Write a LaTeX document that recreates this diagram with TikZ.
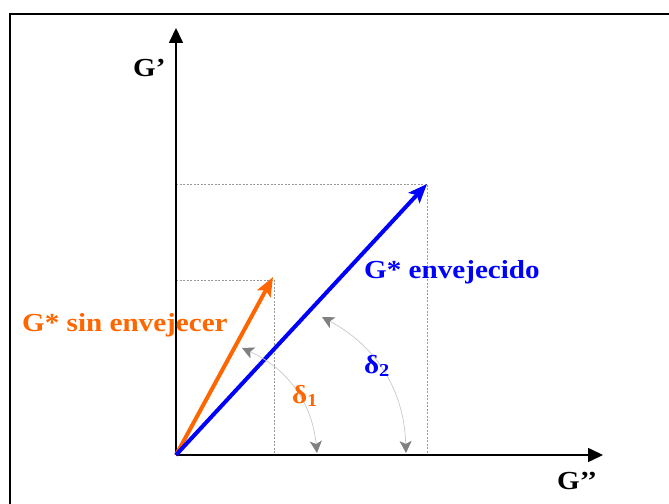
\documentclass[tikz,border=0pt]{standalone}
\usepackage{fontspec}
\setmainfont{Liberation Serif}[FakeStretch=1.12]
\usetikzlibrary{arrows.meta}
\definecolor{vorange}{RGB}{255,102,0}
\definecolor{vblue}{RGB}{0,0,255}
\definecolor{arcline}{RGB}{200,200,200}
\definecolor{arctip}{RGB}{128,128,128}
\tikzset{
  lbl/.style={inner sep=0pt, font=\fontsize{26bp}{31bp}\selectfont\bfseries},
  axis/.style={line width=1.6bp, -{Triangle[length=15bp,width=14bp]}},
  vec/.style={line width=4bp, -{Stealth[length=19bp,width=15bp,inset=4bp]}},
  guide/.style={gray!80, line width=0.5bp, dash pattern=on 2bp off 1.5bp},
  angarc/.style={arcline, line width=0.7bp, {Stealth[length=12bp,width=12bp,inset=3bp,color=arctip]}-{Stealth[length=12bp,width=12bp,inset=3bp,color=arctip]}},
}
\begin{document}
\begin{tikzpicture}[x=1bp,y=1bp]
\useasboundingbox (0,0) rectangle (669,504);
% frame
\draw[line width=2bp] (9.5,-5) -- (9.5,489.5) -- (680,489.5);
% points
\coordinate (O) at (176,49);
\coordinate (Ytop) at (176,476);
\coordinate (Xend) at (603,49);
\coordinate (A) at (273,227);
\coordinate (B) at (427,320);
\coordinate (Ay) at (176,224);
\coordinate (Ax) at (274,49);
\coordinate (Ac) at (274,224);
\coordinate (By) at (176,320);
\coordinate (Bx) at (427,49);
% guides
\draw[guide] (Ay) -- (Ac) -- (Ax);
\draw[guide] (By) -- (B) -- (Bx);
% axes
\draw[axis] (O) -- (Ytop);
\draw[axis] (O) -- (Xend);
% vectors
\draw[vec, vorange] (O) -- (A);
\draw[vec, vblue] (O) -- (B);
% angle arcs
\coordinate (d1a) at (242,156);
\coordinate (d1b) at (317,51);
\coordinate (d2a) at (322,187);
\coordinate (d2b) at (406,51);
\draw[angarc] (d1a) to[bend left=30] (d1b);
\draw[angarc] (d2a) to[bend left=30] (d2b);
% labels
\node[lbl, anchor=base west] (gp) at (133,427) {G’};
\node[lbl, anchor=base west] (gpp) at (557,14) {G’’};
\node[lbl, anchor=base west, text=vorange] (lo) at (22,172) {G* sin envejecer};
\node[lbl, anchor=base west, text=vblue] (lb) at (364,225) {G* envejecido};
\node[lbl, text=vorange] (d1) at (305,108) {δ\textsubscript{1}};
\node[lbl, text=vblue] (d2) at (377,138) {δ\textsubscript{2}};
\end{tikzpicture}
\end{document}
